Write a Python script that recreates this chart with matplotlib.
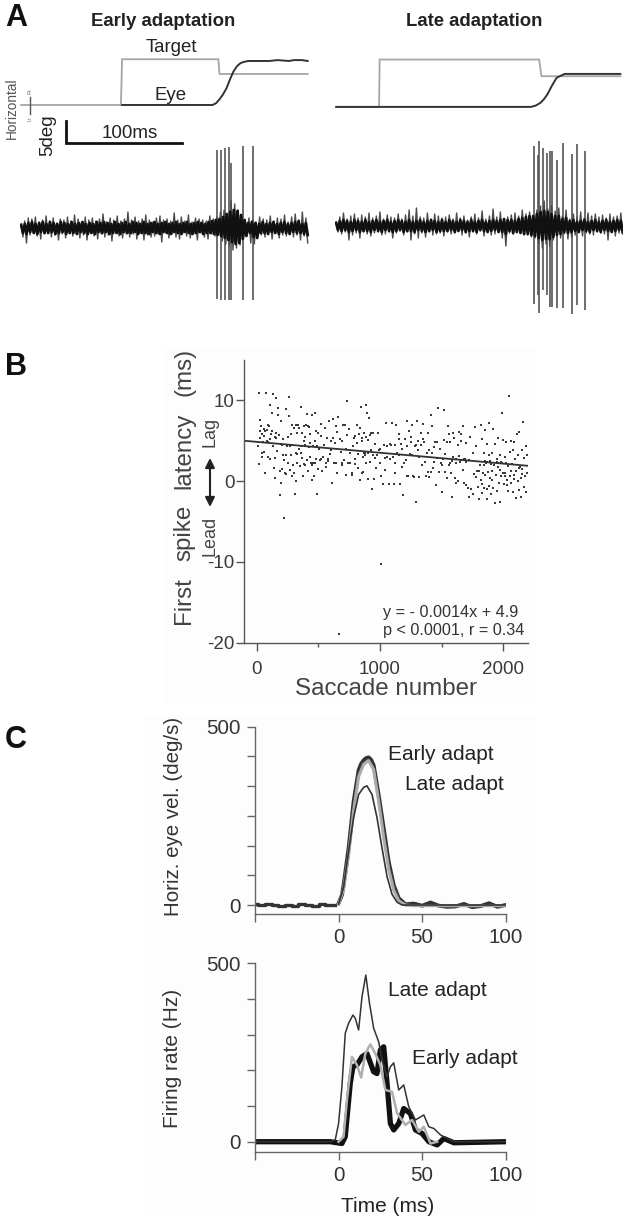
import numpy as np
import matplotlib
matplotlib.use("Agg")
import matplotlib.pyplot as plt
from matplotlib.patches import Rectangle

plt.rcParams['font.family'] = ['Liberation Sans', 'DejaVu Sans']

W, H = 623, 1219

# ---------- Panel A data ----------
early_target_t = [1, 87, 88, 171, 172, 248]
early_target_y = [0, 0, 10.4, 10.4, 7.05, 7.05]
early_eye_t = [88, 166, 169, 172, 175, 178, 181, 184, 187, 190, 193, 197, 215, 222, 232, 236, 243, 248]
early_eye_y = [0, 0, 0.4, 1.3, 2.4, 3.8, 5.8, 7.6, 8.8, 9.5, 9.8, 10.0, 10.0, 10.2, 10.0, 10.2, 10.2, 10.0]
late_target_t = [1, 38, 38.5, 176, 178, 246]
late_target_y = [0, 0, 10.77, 10.77, 6.98, 6.98]
late_eye_t = [1, 38, 169, 173, 177, 180, 183, 187, 191, 194, 198, 246]
late_eye_y = [0, 0, 0, 0.3, 0.9, 1.7, 2.8, 4.8, 6.6, 7.0, 7.5, 7.5]
scale_t = [39.7, 39.7, 139.7]
scale_y = [-3.64, -8.64, -8.64]

early_spike_t = [169.4, 173.3, 176.7, 180.6, 182.3, 192.2, 200.9]
early_spike_top = [78, 78, 80, 81, 65, 82, 82]
early_spike_bot = [-71, -72, -72, -72, -72, -72, -72]
late_spike_t = [171.6, 175.3, 176.1, 179.1, 182.5, 185.3, 186.8, 191.1, 196.3, 204, 208.9, 215.5]
late_spike_top = [80, 71, 85, 78, 73, 75, 75, 66, 83, 72, 82, 75]
late_spike_bot = [-78, -69, -87, -64, -69, -81, -81, -82, -82, -88, -79, -84]

early_trace = [
 4,-9,7,-15,10,-7,9,-5,11,-8,6,-11,8,-6,12,-5,7,-9,10,-7,5,-12,9,-6,8,-10,11,-5,7,-8,
 13,-6,9,-10,6,-7,11,-12,8,-5,10,-8,7,-11,9,-6,14,-9,6,-7,10,-13,8,-5,12,-8,7,-10,9,-6,
 16,-9,8,-6,11,-11,7,-5,9,-12,13,-7,8,-9,6,-8,10,-6,12,-14,8,-5,9,-10,7,-6,15,-9,8,-11,
 11,-5,7,-8,13,-10,6,-6,10,-12,9,-5,8,-9,7,-11,12,-6,9,-8,11,-7,16,-13,18,-16,14,-18,27,-22,
 24,-20,18,-17,9,-9,7,-6,10,-15,8,-16,6,-8,11,-7,9,-9,8,-6,12,-11,7,-5,10,-10,9,-7,13,-8,
 6,-6,11,-9,14,-7,8,-12,16,-8,10,-15]
late_trace = [
 4,-6,9,-8,13,-6,7,-14,10,-9,12,-7,8,-12,11,-6,9,-8,13,-10,8,-7,10,-6,14,-9,7,-8,11,-6,
 9,-12,8,-7,12,-5,7,-9,11,-6,16,-14,10,-8,18,-12,9,-7,8,-11,13,-6,7,-9,12,-8,10,-7,8,-10,
 9,-6,11,-8,7,-7,13,-5,8,-9,10,-7,6,-11,9,-6,12,-8,8,-5,15,-10,7,-6,10,-9,17,-8,9,-6,
 14,-12,7,-20,9,-7,11,-8,13,-6,10,-7,16,-9,12,-9,14,-11,10,-12,16,-17,20,-22,25,-18,17,-20,
 20,-14,15,-10,18,-12,10,-8,16,-13,7,-11,12,-9,9,-6,14,-10,8,-7,13,-8,10,-9,12,-6,9,-7,
 11,-8,8,-14,12,-6,9,-10,10,-7,13,-8]
early_core = [
 3,-5,4,-6,5,-4,6,-5,4,-6,5,-4,6,-5,4,-5,6,-4,5,-6,4,-5,6,-4,5,-6,4,-5,6,-5,
 4,-6,5,-4,6,-5,4,-6,5,-5,4,-6,6,-4,5,-5,6,-4,5,-6,4,-5,6,-5,4,-6,5,-4,6,-5,
 4,-5,6,-4,5,-6,4,-5,6,-5,4,-6,5,-4,6,-5,4,-6,5,-4,6,-5,4,-6,5,-4,6,-5,4,-6,
 5,-4,6,-5,4,-6,5,-5,6,-4,5,-6,4,-5,6,-5,7,-6,8,-7,9,-8,11,-10,14,-12,16,-14,18,-16,
 17,-15,13,-11,8,-8,5,-5,6,-9,5,-10,4,-5,6,-5,4,-6,5,-4,6,-5,4,-6,5,-4,6,-5,
 4,-6,5,-4,6,-5,7,-5,4,-6,5,-7]
late_core = [
 3,-4,5,-5,6,-4,5,-6,4,-5,6,-4,5,-6,4,-5,6,-5,4,-6,5,-4,6,-5,4,-6,5,-4,6,-5,
 4,-6,5,-5,6,-4,5,-6,4,-5,6,-5,4,-6,5,-4,6,-5,4,-6,5,-5,6,-4,5,-6,4,-5,6,-5,
 4,-5,6,-4,5,-6,4,-5,6,-4,5,-6,4,-5,6,-5,4,-6,5,-4,6,-5,4,-6,5,-5,6,-4,5,-6,
 6,-6,7,-8,6,-5,6,-7,5,-6,7,-7,8,-8,9,-8,10,-9,10,-10,12,-12,14,-14,15,-13,14,-13,
 12,-11,10,-9,10,-8,7,-6,8,-7,5,-6,6,-5,4,-6,5,-4,6,-5,4,-6,5,-4,6,-5,4,-6,
 5,-4,6,-5,4,-6,5,-5,6,-4,5,-6]

# ---------- Panel B data ----------
fit_x = [-100, 2200]
fit_y = [5.0, 1.9]
scatter_pairs = [
 (10,4.4),(15,2.1),(20,10.9),(25,5.3),(28,6.2),(30,7.6),(35,6.8),(40,5.8),(45,3.5),(50,4.8),(55,6.4),(60,3.6),(65,1.0),(70,6.2),(75,10.9),(80,6.3),(85,5.0),(90,3.0),(95,7.0),(100,6.8),
 (105,9.4),(110,2.8),(115,5.9),(120,8.4),(125,6.2),(130,4.4),(135,10.8),(140,1.6),(145,5.5),(150,0.4),(155,6.0),(160,10.3),(165,3.7),(170,9.1),(175,8.2),(180,5.7),(185,1.3),(190,-1.7),(195,-0.2),(200,4.6),
 (205,1.5),(210,3.3),(215,5.2),(220,-4.6),(225,2.6),(230,1.0),(235,3.3),(240,8.9),(245,4.3),(250,2.2),(255,5.5),(260,10.4),(265,8.1),(270,1.4),(275,4.5),(280,3.3),(285,7.0),(290,0.6),(295,2.0),(300,6.6),
 (305,1.0),(310,-1.6),(315,3.5),(320,0.0),(325,6.0),(330,2.2),(335,7.0),(340,4.0),(345,6.6),(350,1.9),(355,9.2),(360,3.5),(365,6.0),(370,2.9),(375,0.7),(380,5.0),(385,6.8),(390,4.5),(395,2.0),(400,7.0),
 (405,2.6),(410,8.3),(415,1.2),(420,4.2),(425,6.7),(430,3.0),(435,5.8),(440,2.3),(445,0.1),(450,8.2),(455,4.3),(460,2.2),(465,0.6),(470,8.5),(475,5.0),(480,2.8),(485,-1.6),(490,4.3),(495,1.5),(500,6.0),
 (510,2.6),(520,5.6),(530,1.3),(540,3.0),(550,6.6),(560,1.8),(570,5.4),(580,2.5),(590,7.5),(600,3.9),(610,-0.2),(620,5.4),(630,2.2),(640,6.8),(650,1.0),(660,7.9),(670,-18.9),(680,3.6),(690,5.0),(700,7.0),
 (710,2.6),(720,0.8),(730,9.9),(740,2.2),(750,6.4),(760,3.5),(770,1.0),(780,4.3),(790,5.4),(800,2.1),(810,7.0),(820,3.4),(830,5.8),(840,0.2),(845,9.2),(850,1.0),(855,5.0),(860,3.0),(870,6.0),(875,3.3),
 (880,3.6),(885,9.4),(890,5.5),(895,8.4),(900,0.3),(905,3.5),(910,7.8),(915,5.7),(920,2.4),(925,3.9),(930,6.0),(935,-1.0),(940,3.2),(950,0.3),(960,2.9),(970,1.6),(980,6.0),(990,3.9),(1000,2.3),(1010,-10.2),
 (1020,-0.4),(1030,4.5),(1040,1.4),(1050,7.2),(1060,4.3),(1070,-0.3),(1080,2.7),(1090,4.5),(1100,7.2),(1110,-0.4),(1120,1.0),(1130,6.9),(1140,3.5),(1150,5.9),(1160,-0.4),(1170,4.6),(1180,1.8),(1190,-1.7),(1200,5.2),(1210,2.6),
 (1220,4.3),(1230,0.6),(1240,3.4),(1250,5.5),(1260,7.0),(1270,0.6),(1280,4.4),(1290,-2.6),(1300,7.5),(1310,3.8),(1320,0.5),(1330,4.5),(1340,2.0),(1350,7.1),(1360,4.8),(1370,0.6),(1380,3.5),(1390,6.0),(1400,0.5),(1410,8.2),
 (1420,3.5),(1430,1.6),(1440,4.2),(1450,-0.5),(1460,2.9),(1470,9.0),(1480,1.1),(1490,4.0),(1500,-1.3),(1510,2.7),(1520,8.8),(1530,1.1),(1540,4.9),(1550,6.8),(1560,2.0),(1570,4.8),(1580,-2.0),(1590,3.0),(1600,5.3),(1610,0.4),
 (1620,2.2),(1630,4.5),(1640,6.1),(1650,2.4),(1660,5.9),(1670,6.8),(1680,-0.2),(1690,2.8),(1700,4.7),(1710,-0.8),(1720,2.6),(1730,5.5),(1740,-1.0),(1750,3.5),(1760,0.9),(1770,6.7),(1780,4.3),(1790,1.2),(1800,-2.2),(1810,2.0),
 (1815,7.0),(1820,0.2),(1825,5.2),(1830,-1.5),(1835,1.0),(1840,3.5),(1845,-0.8),(1850,6.3),(1855,0.8),(1860,2.3),(1865,-2.2),(1870,4.6),(1875,1.1),(1880,-0.6),(1885,7.2),(1890,2.5),(1895,0.4),(1900,-1.6),(1905,3.5),(1910,1.2),
 (1915,6.5),(1920,-0.8),(1925,2.0),(1930,4.6),(1935,-2.7),(1940,0.8),(1945,2.8),(1950,-1.2),(1955,5.3),(1960,1.7),(1965,-0.2),(1970,3.3),(1975,-2.6),(1980,0.6),(1985,2.4),(1990,8.4),(1995,1.0),(2000,5.1),(2005,-0.3),(2010,3.0),
 (2015,0.7),(2020,2.3),(2025,4.8),(2030,0.2),(2035,1.9),(2040,-1.2),(2045,10.6),(2050,3.6),(2055,0.6),(2060,5.0),(2065,-0.2),(2070,2.1),(2075,3.9),(2080,-1.4),(2085,0.8),(2090,4.9),(2095,2.7),(2100,-2.1),(2105,1.2),(2110,5.8),
 (2115,0.0),(2120,3.2),(2125,-1.1),(2130,6.1),(2135,1.8),(2140,0.4),(2145,-2.0),(2150,3.9),(2155,1.5),(2160,7.3),(2165,-0.7),(2170,2.9),(2175,0.7),(2180,4.3),(2185,-1.3),(2190,3.2),(2195,1.0),
 (1720,-2.0),(1755,-1.6),(1775,0.5),(1795,-0.7),(1805,1.2),(1825,-0.3),(1845,2.0),(1870,-1.0),(1880,3.2),(1905,0.1),(1950,2.4),(1975,1.4),(2010,1.0),(2030,-0.5),(2065,1.2),(2090,0.3),(2125,1.6),(2150,0.9),
 (880,3.4),(870,3.5),(1660,2.6),(1680,2.7),(1700,2.4),(1570,2.3),(1580,2.5),(1850,2.5),(1870,2.4),(1900,2.1),(1960,2.2),(1990,2.3),
 (60,5.6),(110,5.2),(160,5.4),(205,4.5),(270,4.4),(330,3.4),(380,2.1),(430,4.7),(470,2.3),(520,2.7),(560,2.2),(600,5.0),(640,2.2),(690,2.0),(720,4.0),(760,2.3),(800,5.6),(820,1.6),(850,5.3),(960,4.6),
 (1000,4.0),(1040,2.9),(1080,4.6),(1120,2.3),(1150,3.2),(1180,4.0),(1220,0.7),(1260,3.3),(1290,4.5),(1320,3.0),(1345,5.2),(1390,1.1),(1415,1.1),(1440,2.4),(1460,4.9),(1500,2.0),(1530,3.4),(1560,5.9),(1620,-0.2),(1640,3.1),
 (40,3.0),(95,4.8),(150,2.9),(200,7.4),(240,0.9),(280,5.9),(315,6.9),(355,4.4),(395,5.5),(415,6.8),(450,2.0),(480,6.2),(505,4.0),(525,7.1),(545,4.5),(575,2.7),(595,3.4),(615,7.7),(635,4.7),(655,6.1),
 (675,5.2),(695,2.2),(715,6.9),(735,5.7),(775,0.8),(795,2.8),(815,4.7),(835,6.6),(860,1.1),(890,2.2),(905,5.1),(945,6.0),(975,3.3),(1005,0.6),(1055,3.0),(1105,3.0),(1125,4.5),(1155,5.2),(1195,2.2),(1215,7.5),
 (1235,6.2),(1255,4.8),(1275,0.5),(1305,5.0),(1335,6.0),(1365,2.4),(1395,3.9),(1425,6.8),(1445,4.8),(1475,1.1),(1495,2.3),(1515,5.1),(1545,0.4),(1575,1.0),(1595,6.0),(1615,2.7),(1635,0.0),(1655,5.0),(1675,1.4),(1695,-0.5),
]
saccade_num = [p[0] for p in scatter_pairs]
first_latency = [p[1] for p in scatter_pairs]

# ---------- Panel C data ----------
vel_base_t = [-50,-46,-42,-38,-34,-30,-26,-22,-18,-14,-10,-6,-2]
vel_base_y = [3,-1,4,0,-4,-1,-3,2,-1,-3,3,-1,0]
vel_early_t = [0,2,3,6,9,12,13.5,15,16.5,18,19.5,21,24,27,30,33,36,40,45,50,55,60,65,70,75,80,85,90,95,100]
vel_early_y = [5,28,56,159,290,378,396,406,412,414,407,392,308,215,121,56,19,2,4,-2,7,-2,-5,-4,3,-6,-3,5,-5,0]
vel_gray_t = [0,3,6,9,12,15,18,21,24,27,30,33,36,40,45,100]
vel_gray_y = [3,45,140,265,360,395,405,380,290,190,100,42,12,0,-2,-2]
vel_late_t = [0,3,6,9,12,15,17,20,23,26,29,32,35,38,45,100]
vel_late_y = [3,50,150,245,310,330,334,310,245,160,80,30,8,0,0,0]

fr_late_t = [-50,-5,-2,0,2,4,6,8.6,10,12,14,16.3,18.5,21,24,26,29,31,33,36,39,42,46,51,54,57,61,65,69,100]
fr_late_y = [0,0,5,51,154,304,332,355,346,313,406,467,388,318,280,229,182,210,221,145,159,98,61,75,42,37,19,9,0,0]
fr_gray_t = [0,3,5,8,11,13.5,16,19,22,25,28,32,35,40,44,48,51,55,59]
fr_gray_y = [0,14,117,238,215,180,247,273,247,215,145,140,80,47,61,28,42,-5,0]
fr_early_t = [-50,-5,2,4,7,8.6,11,14,17,21,23,25,27,29,31,33,36,39,43,46,50,54,59,63,69,100]
fr_early_y = [0,0,-5,14,164,210,215,238,247,196,191,257,266,164,51,33,51,93,79,33,23,0,-9,9,-3,0]

fig = plt.figure(figsize=(W/100, H/100), dpi=100, facecolor='white')

def axpx(x0, y0, x1, y1):
    ax = fig.add_axes([x0/W, 1-y1/H, (x1-x0)/W, (y1-y0)/H])
    ax.patch.set_alpha(0)
    return ax

def txt(x, y, s, **kw):
    kw.setdefault('ha', 'center'); kw.setdefault('va', 'center')
    kw.setdefault('color', '#222222')
    fig.text(x/W, 1-y/H, s, **kw)

# faint scanned-paper tint behind panels B and C
fig.add_artist(Rectangle((163/W, 1-705/H), 374/W, 357/H, transform=fig.transFigure, color='#fdfdfd', lw=0, zorder=-5))
fig.add_artist(Rectangle((145/W, 1-1215/H), 390/W, 500/H, transform=fig.transFigure, color='#fdfdfd', lw=0, zorder=-5))

GT = '#a6a6a6'; DK = '#333333'

# Panel letters / titles
txt(5, 18, 'A', fontsize=22, fontweight='bold', ha='left', color='#111111')
txt(5, 367, 'B', fontsize=22, fontweight='bold', ha='left', color='#111111')
txt(5, 740, 'C', fontsize=22, fontweight='bold', ha='left', color='#111111')
txt(163, 21, 'Early adaptation', fontsize=13.4, fontweight='bold')
txt(474, 21, 'Late adaptation', fontsize=13.3, fontweight='bold')

# Panel A: eye / target
a1 = axpx(20, 55, 310, 150); a1.axis('off')
a1.set_xlim(0, 250); a1.set_ylim(-10.23, 11.36)
a1.plot(early_target_t, early_target_y, color=GT, lw=1.3, solid_joinstyle='miter')
a1.plot(early_eye_t, early_eye_y, color=DK, lw=1.4)
a1.plot(scale_t, scale_y, color='#111111', lw=2, solid_joinstyle='miter')
a1.plot([8.6, 8.6], [1.8, -2.0], color='#555555', lw=1.0)

a2 = axpx(335, 55, 623, 150); a2.axis('off')
a2.set_xlim(0, 248.3); a2.set_ylim(-9.8, 11.8)
a2.plot(late_target_t, late_target_y, color=GT, lw=1.3, solid_joinstyle='miter')
a2.plot(late_eye_t, late_eye_y, color=DK, lw=1.4)

txt(171, 48, 'Target', fontsize=13.4)
txt(171, 95, 'Eye', fontsize=13.4)
txt(130, 133, '100ms', fontsize=13.5)
txt(48, 135, '5deg', fontsize=13.5, rotation=90)
txt(12, 108, 'Horizontal', fontsize=9.8, rotation=90, color='#555555')
txt(30, 91, 'Rt', fontsize=4, rotation=90, color='#777777')
txt(30, 119, 'Lt', fontsize=4, rotation=90, color='#777777')

# Panel A: traces
a3 = axpx(20, 140, 310, 316); a3.axis('off')
a3.set_xlim(0, 250); a3.set_ylim(-88, 88)
a3.vlines(early_spike_t, early_spike_bot, early_spike_top, color='#555555', lw=1.2)
a3.plot(np.linspace(1, 248, len(early_trace)), early_trace, color='#4a4a4a', lw=1.0)
a3.plot(np.linspace(1, 248, len(early_core)), early_core, color='#111111', lw=2.0)

a4 = axpx(335, 138, 623, 314); a4.axis('off')
a4.set_xlim(0, 248.3); a4.set_ylim(-88, 88)
a4.vlines(late_spike_t, late_spike_bot, late_spike_top, color='#555555', lw=1.2)
a4.plot(np.linspace(1, 248, len(late_trace)), late_trace, color='#4a4a4a', lw=1.0)
a4.plot(np.linspace(1, 248, len(late_core)), late_core, color='#111111', lw=2.0)

# Panel B
b = axpx(244.4, 360, 528, 642.7)
b.set_xlim(-100, 2200); b.set_ylim(-20, 15)
b.scatter(saccade_num, first_latency, s=1.6, color='#3a3a3a', marker='s', linewidths=0, clip_on=False)
b.plot(fit_x, fit_y, color='#333333', lw=1.3)
for s in ['top', 'right']:
    b.spines[s].set_visible(False)
for s in ['left', 'bottom']:
    b.spines[s].set_color('#555555'); b.spines[s].set_linewidth(1)
b.set_xticks([0, 1000, 2000]); b.set_xticks([500, 1500], minor=True)
b.set_yticks([-20, -10, 0, 10], labels=['-20', '-10', '0', '10'])
b.tick_params(axis='both', which='major', length=6, width=1, color='#555555', labelsize=13.5, labelcolor='#3a3a3a', pad=1)
b.tick_params(axis='x', which='minor', length=3, width=1, color='#555555')
b.tick_params(axis='x', which='major', pad=7)
txt(518, 613, 'y = - 0.0014x + 4.9', fontsize=11.7, ha='right', color='#333333')
txt(524, 630, 'p < 0.0001, r = 0.34', fontsize=11.7, ha='right', color='#333333')
txt(386, 689, 'Saccade number', fontsize=17.4, color='#444444')
for word, ypos in [('First', 601), ('spike', 533), ('latency', 451), ('(ms)', 372)]:
    txt(184, ypos, word, fontsize=17.4, rotation=90, color='#444444')
txt(210, 536, 'Lead', fontsize=13, rotation=90, color='#444444')
txt(210, 432, 'Lag', fontsize=13, rotation=90, color='#444444')
b.annotate('', xy=(210/W, 1-458/H), xytext=(210/W, 1-507/H), xycoords='figure fraction', textcoords='figure fraction',
           arrowprops=dict(arrowstyle='<|-|>', color='#222222', lw=1.5, mutation_scale=14, shrinkA=0, shrinkB=0))

# Panel C top
c1 = axpx(255, 726.7, 505.7, 914)
c1.set_xlim(-50, 100); c1.set_ylim(-25.2, 500)
c1.plot(vel_base_t, vel_base_y, color='#333333', lw=2.4, drawstyle='steps-mid')
c1.plot(vel_early_t, vel_early_y, color='#333333', lw=2.8)
c1.plot(vel_gray_t, vel_gray_y, color='#aaaaaa', lw=2.2)
c1.plot(vel_late_t, vel_late_y, color='#333333', lw=1.2)
c1.set_yticks(np.arange(0, 7)*500/6, labels=['0', '', '', '', '', '', '500'])
c1.set_xticks([-50, 0, 50, 100], labels=['', '0', '50', '100'])

# Panel C bottom
c2 = axpx(255, 963.3, 505.7, 1151.7)
c2.set_xlim(-50, 100); c2.set_ylim(-28, 500)
c2.plot(fr_early_t, fr_early_y, color='#111111', lw=3.8)
c2.plot(fr_gray_t, fr_gray_y, color='#b0b0b0', lw=1.8)
c2.plot(fr_late_t, fr_late_y, color='#333333', lw=1.1)
c2.set_yticks([0, 100, 200, 300, 400, 500], labels=['0', '', '', '', '', '500'])
c2.set_xticks([-50, 0, 50, 100], labels=['', '0', '50', '100'])

for c in (c1, c2):
    for s in ['top', 'right']:
        c.spines[s].set_visible(False)
    for s in ['left', 'bottom']:
        c.spines[s].set_color('#666666'); c.spines[s].set_linewidth(1)
    c.tick_params(axis='both', length=6, width=1, color='#666666', labelsize=14.8, labelcolor='#333333', pad=4)
    c.tick_params(axis='x', pad=4)

txt(174, 816, 'Horiz. eye vel. (deg/s)', fontsize=14.8, rotation=90, color='#333333')
txt(441, 754, 'Early adapt', fontsize=15)
txt(454, 785, 'Late adapt', fontsize=15)
txt(173, 1058, 'Firing rate (Hz)', fontsize=15, rotation=90, color='#333333')
txt(437, 990, 'Late adapt', fontsize=15)
txt(465, 1059, 'Early adapt', fontsize=15)
txt(388, 1206, 'Time (ms)', fontsize=15)

fig.savefig('out.png', dpi=100)
